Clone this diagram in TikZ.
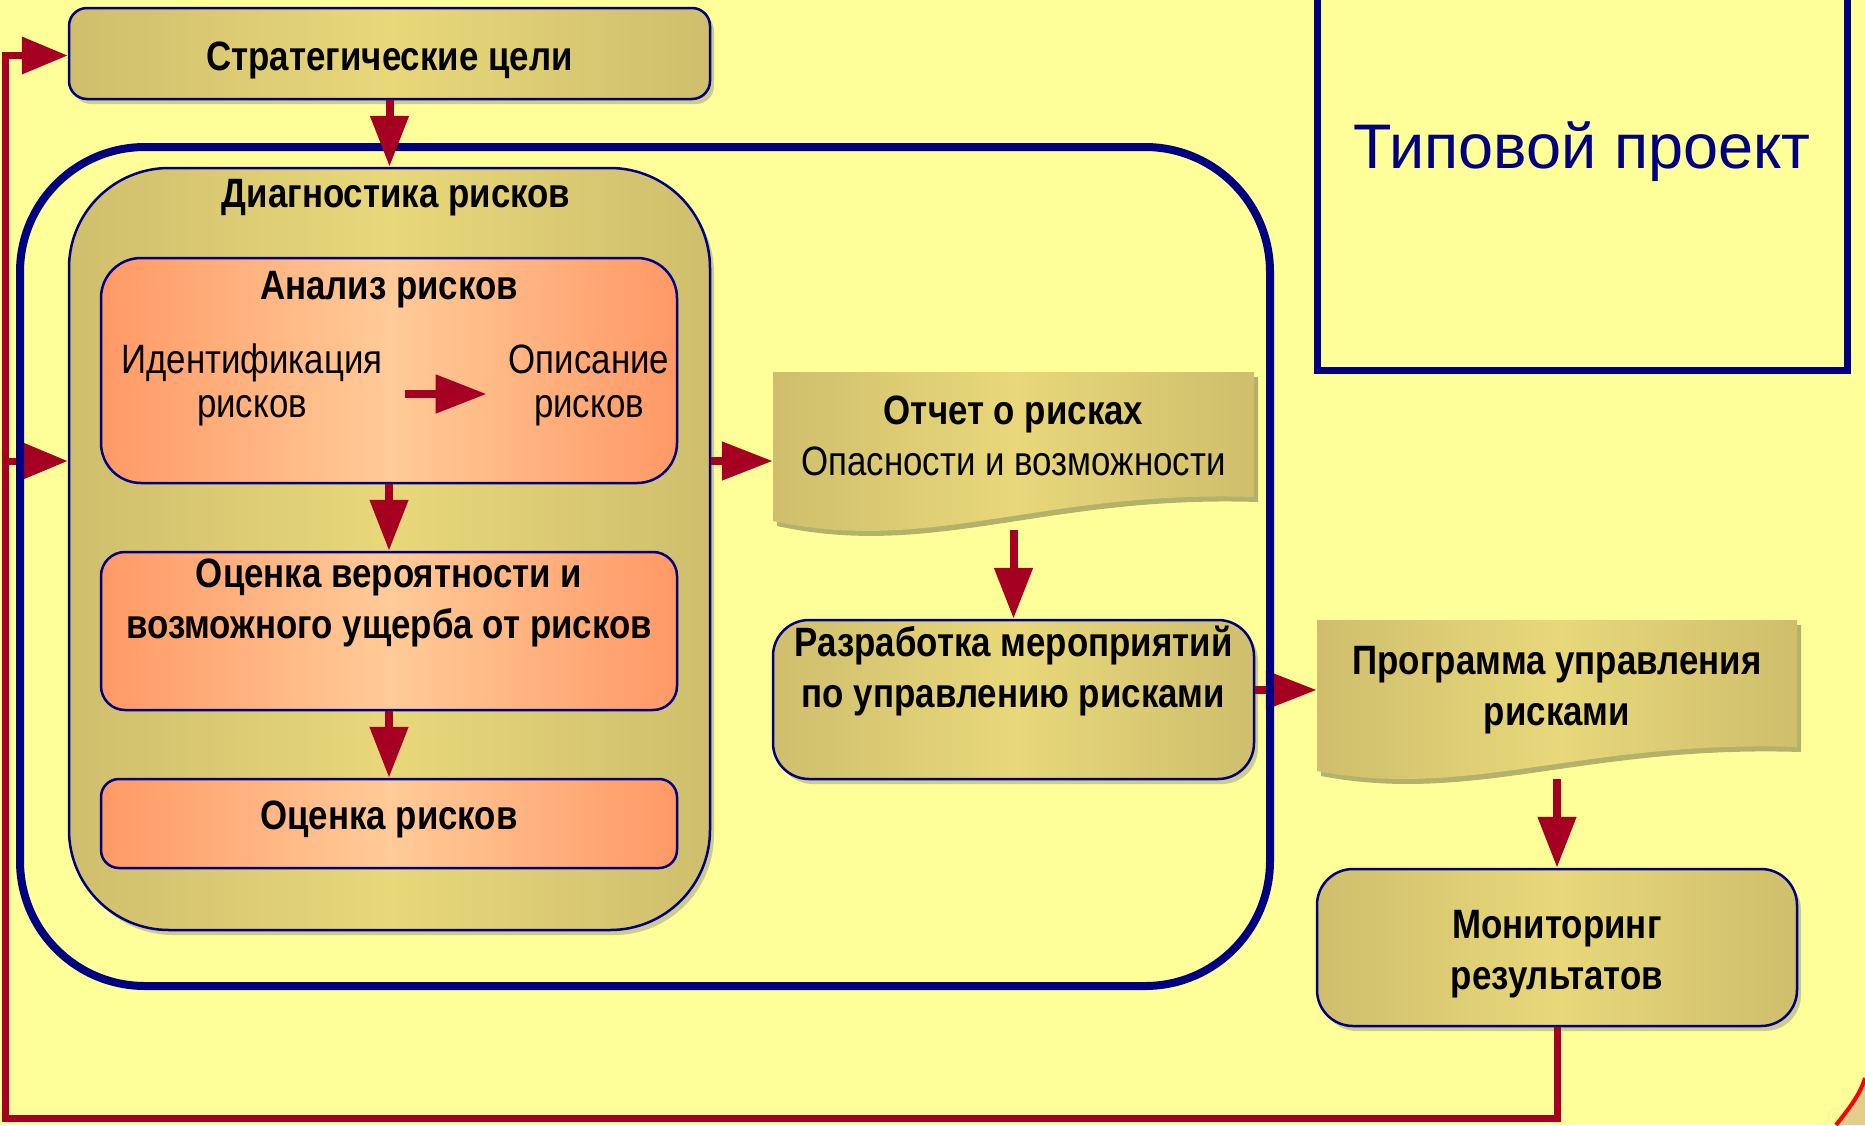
\documentclass[tikz,border=0pt]{standalone}
\usepackage{fontspec}
\setmainfont{Liberation Sans}
\newfontfamily\narrow[FakeStretch=0.85]{Liberation Sans}
\usetikzlibrary{arrows.meta,shadows,calc}
\definecolor{bgY}{HTML}{FFFF99}
\definecolor{navy}{HTML}{000080}
\definecolor{arrR}{HTML}{A50021}
\definecolor{tanE}{HTML}{CFBE6C}
\definecolor{tanM}{HTML}{E8D87A}
\definecolor{salE}{HTML}{FF9966}
\definecolor{salM}{HTML}{FFCB98}
\definecolor{frameTan}{HTML}{E2CE8A}
\begin{document}
\begin{tikzpicture}[x=1pt,y=-1pt,
  box/.style={draw=navy, line width=2.5pt, left color=tanE, right color=tanE, middle color=tanM,
    drop shadow={shadow xshift=4pt, shadow yshift=-5pt, opacity=0.4}, inner sep=0pt},
  sbox/.style={draw=navy, line width=2.5pt, left color=salE, right color=salE, middle color=salM, inner sep=0pt},
  btxt/.style={font=\narrow\bfseries\fontsize{41}{51}\selectfont, align=center, inner sep=0pt, yshift=-4pt},
  rtxt/.style={font=\narrow\fontsize{41}{44}\selectfont, align=center, inner sep=0pt},
  arr/.style={draw=arrR, line width=8pt, -{Triangle[length=51pt,width=37pt]}},
  fb/.style={draw=arrR, line width=7pt},
  fbarr/.style={draw=arrR, line width=7pt, -{Triangle[length=46pt,width=36pt]}},
  shad/.style={fill=black, opacity=0.3},
]
\useasboundingbox (0,0) rectangle (1865,1125);
\fill[bgY] (0,0) rectangle (1865,1125);

% corner of slide frame
\fill[frameTan] (1836,1125) .. controls (1851,1106) and (1860,1094) .. (1865,1078) -- (1865,1125) -- cycle;
\draw[red, line width=4pt] (1836,1125) .. controls (1851,1106) and (1860,1094) .. (1865,1078);

% Typical project box
\draw[navy, line width=7pt, line join=miter] (1317,0) -- (1317,370) -- (1847,370) -- (1847,0);
\node[font=\fontsize{63}{70}\selectfont, text=navy, inner sep=0pt] (typ) at (1582,152) {Типовой проект};

% boxes
\node[box, rounded corners=18pt, minimum width=641pt, minimum height=91pt] (strat) at (389.5,53.5) {};
\node[box, rounded corners=100pt, minimum width=641pt, minimum height=762pt] (diag) at (389.5,549) {};
\node[sbox, rounded corners=40pt, minimum width=576pt, minimum height=225pt] (anal) at (389,370.5) {};
\node[sbox, rounded corners=24pt, minimum width=576pt, minimum height=158pt] (est1) at (389,631) {};
\node[sbox, rounded corners=18pt, minimum width=576pt, minimum height=89pt] (est2) at (389,823.5) {};
\node[box, rounded corners=36pt, minimum width=481pt, minimum height=159pt] (dev) at (1013.5,699.5) {};
\node[box, rounded corners=36pt, minimum width=480pt, minimum height=157pt] (mon) at (1557,947.5) {};

% document shapes
\fill[shad] (777,377) -- (1258,377) -- (1258,502) .. controls (1044,495) and (934,560) .. (777,526) -- cycle;
\path[left color=tanE, right color=tanE, middle color=tanM] (773,372) -- (1254,372) -- (1254,497) .. controls (1040,490) and (930,555) .. (773,521) -- cycle;
\node[minimum width=481pt, minimum height=158pt, inner sep=0pt] (rep) at (1013.5,451) {};

\fill[shad] (1321,625) -- (1801,625) -- (1801,752) .. controls (1584,745) and (1474,805) .. (1321,776) -- cycle;
\path[left color=tanE, right color=tanE, middle color=tanM] (1317,620) -- (1797,620) -- (1797,747) .. controls (1580,740) and (1470,800) .. (1317,771) -- cycle;
\node[minimum width=480pt, minimum height=159pt, inner sep=0pt] (prog) at (1557,699.5) {};

% texts
\node[btxt] (stratt) at (389.5,56) {Стратегические цели};
\node[btxt] (diagt) at (396,194) {Диагностика рисков};
\node[btxt] (analt) at (389,286) {Анализ рисков};
\node[rtxt] (ident) at (252,385) {Идентификация\\рисков};
\node[rtxt] (descr) at (589,385) {Описание\\рисков};
\node[btxt] (est1t) at (389,599) {Оценка вероятности и\\возможного ущерба от рисков};
\node[btxt] (est2t) at (389,815) {Оценка рисков};
\node[btxt] (rept1) at (1013.5,410) {Отчет о рисках};
\node[rtxt] (rept2) at (1013.5,461) {Опасности и возможности};
\node[btxt] (devt) at (1013.5,667) {Разработка мероприятий\\по управлению рисками};
\node[btxt] (progt) at (1557,686) {Программа управления\\рисками};
\node[btxt] (mont) at (1557,950) {Мониторинг\\результатов};

% arrows under the frame
\coordinate (fbBL) at (5,1118);
\draw[arr] (dev.east |- progt) -- (prog.west |- progt);
\draw[fbarr] (mon.south) |- (fbBL) |- ([yshift=-2pt]strat.west);
\draw[fbarr] (fbBL |- rept2) -- (diag.west |- rept2);

% outer frame
\node[draw=navy, line width=8pt, rounded corners=125pt, minimum width=1250pt, minimum height=839pt, inner sep=0pt] (frame) at (645,566.5) {};

% other arrows
\draw[arr] (strat.south) -- (diag.north);
\draw[arr] (anal.south) -- (est1.north);
\draw[arr] (est1.south) -- (est2.north);
\draw[arr] (diag.east |- rept2) -- (rep.west |- rept2);
\draw[arr] (rep.south) -- (dev.north);
\draw[arr] (prog.south) -- (mon.north);
\draw[arr] ($(ident.east)+(22,9)$) -- ($(descr.west)+(-22,9)$);
\end{tikzpicture}
\end{document}
